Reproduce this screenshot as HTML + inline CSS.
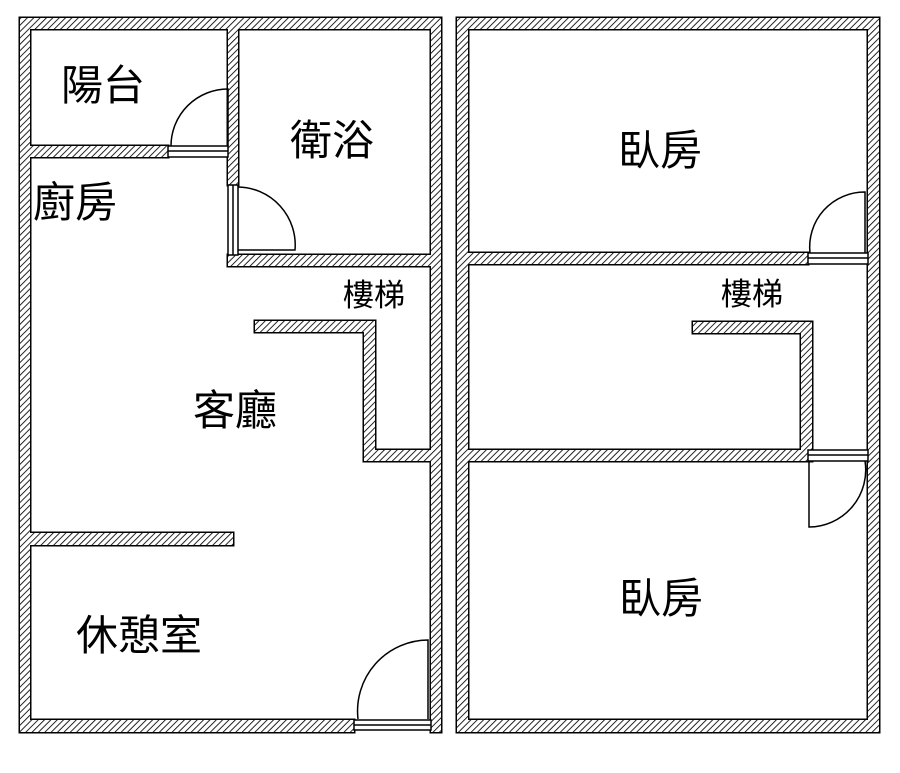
<!DOCTYPE html>
<html><head><meta charset="utf-8"><style>
html,body{margin:0;padding:0;background:#fff;}
svg{display:block;}
text{font-family:"Liberation Sans","Noto Sans CJK TC",sans-serif;fill:#000;}
</style></head><body>
<svg width="900" height="773" viewBox="0 0 900 773" xmlns="http://www.w3.org/2000/svg">
<defs>
<pattern id="h" width="4.5" height="4.5" patternUnits="userSpaceOnUse" patternTransform="rotate(45)">
<rect width="4.5" height="4.5" fill="#fff"/>
<line x1="0" y1="0" x2="0" y2="4.5" stroke="#000" stroke-width="1.7"/>
</pattern>
<g id="walls">
<rect x="20" y="18" width="421" height="11"/>
<rect x="20" y="18" width="10" height="714"/>
<rect x="431" y="18" width="10" height="714"/>
<rect x="20" y="720" width="334" height="12"/>
<rect x="30" y="146" width="138" height="11"/>
<rect x="228" y="29" width="10" height="156"/>
<rect x="228" y="255" width="203" height="11"/>
<rect x="255" y="321" width="120" height="11"/>
<rect x="364" y="321" width="11" height="140"/>
<rect x="364" y="450" width="67" height="11"/>
<rect x="30" y="533" width="203" height="12"/>
<rect x="457" y="18" width="422" height="11"/>
<rect x="457" y="18" width="11" height="714"/>
<rect x="868" y="18" width="11" height="714"/>
<rect x="457" y="720" width="422" height="12"/>
<rect x="468" y="253" width="340" height="11"/>
<rect x="693" y="322" width="119" height="11"/>
<rect x="801" y="322" width="11" height="139"/>
<rect x="468" y="450" width="340" height="11"/>
</g>
</defs>
<use href="#walls" fill="#000" stroke="#000" stroke-width="3"/>
<use href="#walls" fill="url(#h)" stroke="none"/>
<g fill="#fff" stroke="#000" stroke-width="1.5">
<rect x="168" y="146" width="60" height="11"/>
<rect x="228" y="185" width="10" height="70"/>
<rect x="354" y="720" width="77" height="10"/>
<rect x="808" y="253" width="60" height="11"/>
<rect x="808" y="450" width="60" height="11"/>
</g>
<g fill="none" stroke="#000" stroke-width="1.5">
<line x1="168" y1="151" x2="228" y2="151"/>
<line x1="233" y1="185" x2="233" y2="255"/>
<line x1="354" y1="725" x2="431" y2="725"/>
<line x1="808" y1="258" x2="868" y2="258"/>
<line x1="808" y1="455" x2="868" y2="455"/>
<path d="M171 146 A57 57 0 0 1 228 89 L228 146"/>
<path d="M238 187 A58 58 0 0 1 295 250 L238 250"/>
<path d="M358 719 A71 71 0 0 1 428 640 L428 719"/>
<path d="M810 253 A55 55 0 0 1 865 192 L865 253"/>
<path d="M809 461 L809 527 A57 57 0 0 0 865 461"/>
</g>
<g font-size="42">
<text x="61" y="100">陽台</text>
<text x="290" y="155">衛浴</text>
<text x="33" y="217">廚房</text>
<text x="193" y="425">客廳</text>
<text x="76" y="650">休憩室</text>
<text x="618" y="165">臥房</text>
<text x="619" y="613">臥房</text>
</g>
<g font-size="31">
<text x="343" y="306">樓梯</text>
<text x="721" y="305">樓梯</text>
</g>
</svg>
</body></html>
